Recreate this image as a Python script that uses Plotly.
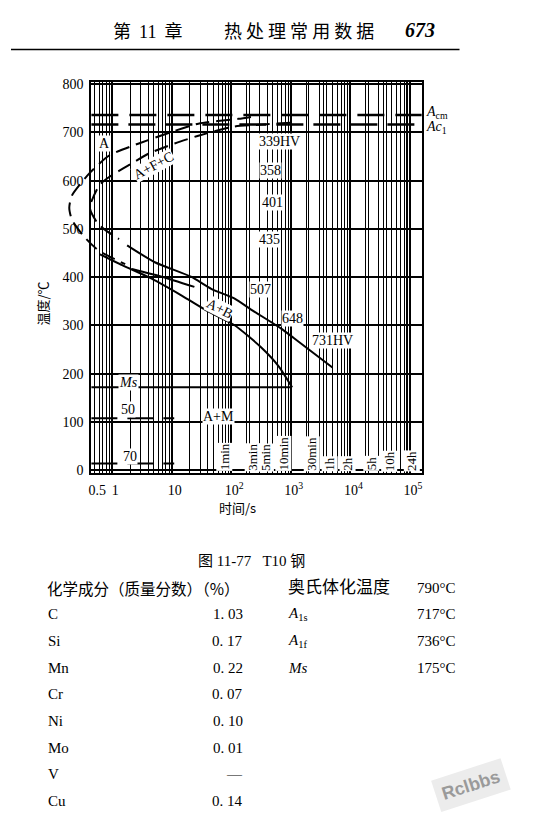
import numpy as np
import plotly.graph_objects as go

# ---- values (time in s, temperature in degC) ----
start_dashed_t = [214, 132, 28, 2.8, 0.89, 0.42, 0.21, 0.19, 0.21, 0.32, 0.45, 0.61, 1.65]
start_dashed_T = [732, 728, 718, 677, 652, 616, 569, 544, 519, 487, 468, 454, 427]
start_solid_t = [2.15, 6.8, 24]
start_solid_T = [417, 401, 380]

finish_dashed_t = [1000, 316, 112, 28, 11.2, 4.1, 1.78, 1.3, 0.83, 0.61, 0.42, 0.56, 0.74, 1.3]
finish_dashed_T = [720, 716, 712, 693, 677, 656, 630, 620, 605, 591, 544, 513, 499, 479]
finish_solid_t = [1.78, 5.2, 21, 46, 112, 215, 680, 1120, 5000]
finish_solid_T = [466, 431, 401, 376, 356, 333, 294, 274, 213]

lower_t = [0.61, 1.47, 4.6, 14.7, 41, 112, 316, 630, 1050]
lower_T = [448, 425, 397, 362, 329, 301, 255, 215, 172]

acm_T = 736
ac1_T = 716
ms_T = 172
ms_end_t = 1050
m50_T = 108
m70_T = 14
m_end_t = 11

hv_labels = ["339HV", "358", "401", "435", "507", "648", "731HV"]
hv_t = [282, 295, 316, 282, 200, 680, 2150]
hv_T = [681, 620, 554, 479, 374, 315, 268]

region_labels = ["A", "A+F+C", "A+B", "A+M", "<i>Ms</i>", "50", "70"]
region_t = [0.74, 5.0, 63, 60, 1.9, 1.85, 2.0]
region_T = [677, 632, 335, 112, 182, 127, 29]
region_angle = [0, -28, 27, 0, 0, 0, 0]

time_marks = [60, 180, 300, 600, 1800, 3600, 7200, 18000, 36000, 86400]
time_names = ["1min", "3min", "5min", "10min", "30min", "1h", "2h", "5h", "10h", "24h"]

x_ticks = [0.5, 1, 10, 100, 1000, 1e4, 1e5]
x_ticktext = ["0.5", "1", "10", "10<sup>2</sup>", "10<sup>3</sup>", "10<sup>4</sup>", "10<sup>5</sup>"]

elements = ["C", "Si", "Mn", "Cr", "Ni", "Mo", "V", "Cu"]
contents = ["1. 03", "0. 17", "0. 22", "0. 07", "0. 10", "0. 01", "—", "0. 14"]
temp_names = ["奥氏体化温度", "<i>A</i><sub>1s</sub>", "<i>A</i><sub>1f</sub>", "<i>Ms</i>"]
temp_values = ["790°C", "717°C", "736°C", "175°C"]

# ---- page geometry (px in the page; the html body adds an 8px margin) ----
PAD = 8
W, H = 534 - 2 * PAD, 825 - 2 * PAD
L, R, TOP, BOT = 89, 422, 78, 474
x_lo, x_hi = -0.35, 5.2
dec = (R - L) / (x_hi - x_lo)
L2 = 55
x2_lo = x_lo - (L - L2) / dec
y_rng = [-6, 804]


def px_x(p):
    return (p - PAD) / W


def px_y(p):
    return 1 - (p - PAD) / H


ydom = [px_y(BOT), px_y(TOP)]

SERIF = "Liberation Serif, Noto Sans CJK SC"
CJK = "Noto Sans CJK SC"

grid_t = [m * 10.0**k for k in range(-1, 5) for m in range(1, 10) if m * 10.0**k > 0.46]
grid_t += [t for t in time_marks if t not in grid_t]

fig = go.Figure()


def curve(t, T, dash="solid", width=2.0, shape="spline"):
    fig.add_trace(
        go.Scatter(
            x=t, y=T, mode="lines",
            line=dict(color="black", width=width, dash=dash, shape=shape, smoothing=0.6),
            xaxis="x2", yaxis="y2", hoverinfo="skip", showlegend=False,
        )
    )


full_span = [10**x_lo, 10**x_hi]
curve(full_span, [acm_T, acm_T], dash="27px,11px", width=2.5, shape="linear")
curve(full_span, [ac1_T, ac1_T], dash="27px,10px", width=2.5, shape="linear")
curve(start_dashed_t, start_dashed_T, dash="14px,7px")
curve(start_solid_t, start_solid_T)
curve(finish_dashed_t, finish_dashed_T, dash="14px,7px")
curve(finish_solid_t, finish_solid_T)
curve(lower_t, lower_T)
curve([10**x_lo, ms_end_t], [ms_T, ms_T], width=2, shape="linear")
curve([10**x_lo, m_end_t], [m50_T, m50_T], dash="26px,10px", shape="linear")
curve([10**x_lo, m_end_t], [m70_T, m70_T], dash="26px,10px", shape="linear")

fig.update_layout(
    width=W, height=H,
    margin=dict(l=0, r=0, t=0, b=0),
    paper_bgcolor="white",
    plot_bgcolor="rgba(0,0,0,0)",
    showlegend=False,
    font=dict(family=SERIF, color="black", size=14),
    xaxis=dict(
        type="log", domain=[px_x(L), px_x(R)], range=[x_lo, x_hi], anchor="y",
        showline=True, mirror=True, linecolor="black", linewidth=2,
        tickvals=x_ticks, ticktext=x_ticktext, ticks="", showgrid=False,
        ticklabelstandoff=3, ticklabelshift=3, zeroline=False,
        tickfont=dict(size=14, family=SERIF),
        minor=dict(tickvals=grid_t, showgrid=True, gridcolor="black", gridwidth=1.1, ticks=""),
    ),
    yaxis=dict(
        domain=ydom, range=y_rng, anchor="x",
        showline=True, mirror=True, linecolor="black", linewidth=2,
        tickvals=list(range(0, 801, 100)), ticks="", showgrid=True,
        gridcolor="black", gridwidth=1.5, zeroline=False,
        ticklabelstandoff=3, tickfont=dict(size=14, family=SERIF),
    ),
    xaxis2=dict(
        type="log", domain=[px_x(L2), px_x(R)], range=[x2_lo, x_hi], anchor="y2",
        showline=False, showticklabels=False, ticks="", zeroline=False,
        tickvals=[1, 10, 100, 1000, 1e4, 1e5], showgrid=True,
        gridcolor="black", gridwidth=2,
    ),
    yaxis2=dict(
        domain=ydom, range=y_rng, anchor="x2", visible=False,
    ),
)

ann = []


def note(text, x, y, xref="paper", yref="paper", xanchor="center", yanchor="middle", **kw):
    ann.append(dict(text=text, x=x, y=y, xref=xref, yref=yref, xanchor=xanchor,
                    yanchor=yanchor, showarrow=False, **kw))


for txt, t, T in zip(hv_labels, hv_t, hv_T):
    note(txt, np.log10(t), T, "x", "y", xanchor="left",
         font=dict(size=14, family=SERIF), bgcolor="white", borderpad=0)
for txt, t, T, a in zip(region_labels, region_t, region_T, region_angle):
    note(txt, np.log10(t), T, "x", "y", textangle=a,
         font=dict(size=14, family=SERIF), bgcolor="white", borderpad=0)
for t, name in zip(time_marks, time_names):
    note(name, np.log10(t), -3, "x", "y", yanchor="bottom", xshift=6, textangle=-90,
         font=dict(size=13, family=SERIF), bgcolor="white", borderpad=0)

# A_cm / Ac_1 labels at the right of the frame
note("<i>A</i><sub>cm</sub>", px_x(R + 2), acm_T + 6, "paper", "y", xanchor="left",
     font=dict(size=14, family=SERIF))
note("<i>Ac</i><sub>1</sub>", px_x(R + 2), ac1_T - 6, "paper", "y", xanchor="left",
     font=dict(size=14, family=SERIF))

# axis titles
note("温度/℃", px_x(40), 345, "paper", "y", textangle=-90, font=dict(size=13, family=CJK))
note("时间/s", px_x(236), px_y(509), font=dict(size=13, family=CJK))

# page header
note("第  <span style='font-family:Liberation Serif'>11</span>  章", px_x(146), px_y(25),
     font=dict(size=18, family=CJK))
note("热 处 理 常 用 数 据", px_x(298), px_y(25), font=dict(size=18, family=CJK))
note("<b><i>673</i></b>", px_x(420), px_y(25), font=dict(size=20, family="Liberation Serif"))

# caption
note("图 11-77   T10 钢", px_x(250), px_y(563), font=dict(size=15, family=SERIF))

# composition table
row0 = 590
row_gap = 27.0
note("化学成分（质量分数）（%）", px_x(42), px_y(row0), xanchor="left",
     font=dict(size=15.5, family=CJK))
for i, (el, v) in enumerate(zip(elements, contents)):
    yy = px_y(row0 + row_gap * (i + 1))
    note(el, px_x(43), yy, xanchor="left", font=dict(size=15, family="Liberation Serif"))
    note(v, px_x(244), yy, xanchor="right", font=dict(size=15, family="Liberation Serif"))
for i, (nm, v) in enumerate(zip(temp_names, temp_values)):
    yy = px_y(row0 + row_gap * i)
    note(nm, px_x(285), yy, xanchor="left", font=dict(size=17 if i == 0 else 15, family=SERIF))
    note(v, px_x(458), yy, xanchor="right", font=dict(size=15, family="Liberation Serif"))

# watermark
note("<b>Rclbbs</b>", px_x(472), px_y(790), textangle=-18,
     font=dict(size=18, family="Liberation Sans", color="#9a9a9a"),
     bgcolor="#ececec", borderpad=6)

fig.update_layout(
    annotations=ann,
    shapes=[dict(type="line", xref="paper", yref="paper", x0=0, x1=px_x(460),
                 y0=px_y(45), y1=px_y(45), line=dict(color="black", width=1.5))],
)

fig.write_html("out.html")
